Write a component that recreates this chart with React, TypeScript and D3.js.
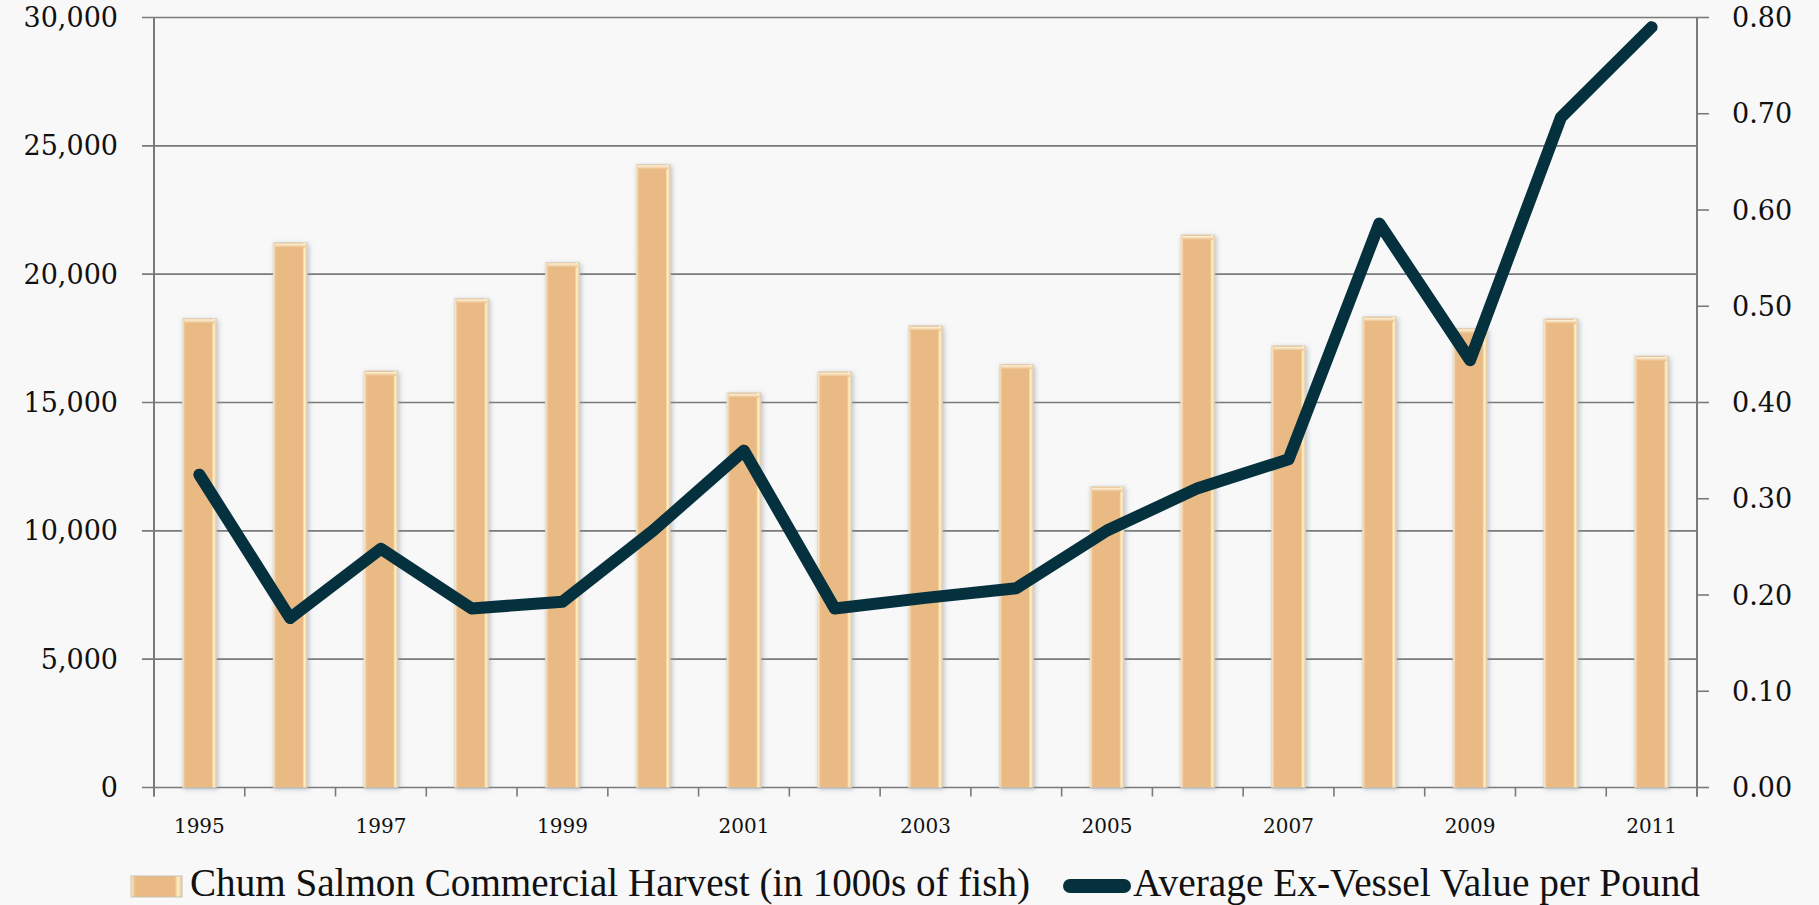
import React from "react";
import * as d3 from "d3";

const years = ["1995","1996","1997","1998","1999","2000","2001","2002","2003","2004","2005","2006","2007","2008","2009","2010","2011"];
const harvest = [18280,21230,16230,19060,20460,24280,15380,16200,17990,16490,11720,21530,17210,18340,17890,18260,16810];
const exVessel = [0.325,0.176,0.248,0.186,0.193,0.267,0.350,0.186,0.197,0.207,0.267,0.311,0.341,0.586,0.444,0.696,0.790];
const leftTicks = [0,5000,10000,15000,20000,25000,30000];
const rightTicks = [0,0.1,0.2,0.3,0.4,0.5,0.6,0.7,0.8];
const labelYears = ["1995","1997","1999","2001","2003","2005","2007","2009","2011"];
const legendLabels = ["Chum Salmon Commercial Harvest (in 1000s of fish)", "Average Ex-Vessel Value per Pound"];

const W = 1819, H = 905;
const L = 154, R = 1697, T = 17.5, B = 787.5;

export default function App() {
  const x = d3.scaleBand<string>().domain(years).range([L, R]).padding(0);
  const yL = d3.scaleLinear().domain([0, 30000]).range([B, T]);
  const yR = d3.scaleLinear().domain([0, 0.8]).range([B, T]);
  const bw = x.bandwidth() * 0.375;
  const cx = (d: string) => (x(d) as number) + x.bandwidth() / 2;
  const line = d3.line<number>().x((_, i) => cx(years[i])).y(d => yR(d));
  const fmt = d3.format(",");
  const axisColor = "#7a7a7a";
  const font = "'DejaVu Serif', 'Liberation Serif', serif";
  const bounds = [...years.map(d => x(d) as number), R];

  return (
    <svg width={W} height={H} style={{ position: "absolute", left: 0, top: 0 }} xmlns="http://www.w3.org/2000/svg">
      <defs>
        <linearGradient id="barGrad" x1="0" x2="1" y1="0" y2="0">
          <stop offset="0" stopColor="#FFF4D8" />
          <stop offset="0.07" stopColor="#EDC18E" />
          <stop offset="0.12" stopColor="#E9BA84" />
          <stop offset="0.86" stopColor="#E9BA84" />
          <stop offset="0.92" stopColor="#FFF1C6" />
          <stop offset="1" stopColor="#E6C7A0" />
        </linearGradient>
        <linearGradient id="barTop" x1="0" x2="0" y1="0" y2="1">
          <stop offset="0" stopColor="#FFF6E0" />
          <stop offset="1" stopColor="#E9BA84" />
        </linearGradient>
        <filter id="shadow" x="-40%" y="-10%" width="180%" height="120%">
          <feDropShadow dx="1.5" dy="1.5" stdDeviation="2.5" floodColor="#8a96a6" floodOpacity="0.55" />
        </filter>
      </defs>
      <rect x={0} y={0} width={W} height={H} fill="#F8F8F8" />

      {leftTicks.map(t => (
        <line key={"g" + t} x1={L - 12} x2={R} y1={yL(t)} y2={yL(t)} stroke={axisColor} strokeWidth={1.6} />
      ))}
      {rightTicks.map(t => (
        <line key={"rt" + t} x1={R} x2={R + 12} y1={yR(t)} y2={yR(t)} stroke={axisColor} strokeWidth={1.6} />
      ))}
      {bounds.map((b, i) => (
        <line key={"xt" + i} x1={b} x2={b} y1={B} y2={B + 9} stroke={axisColor} strokeWidth={1.6} />
      ))}
      <line x1={L} x2={L} y1={T} y2={B + 9} stroke={axisColor} strokeWidth={2} />
      <line x1={R} x2={R} y1={T} y2={B + 9} stroke={axisColor} strokeWidth={2} />

      {years.map((d, i) => (
        <g key={"b" + d}>
          <rect x={cx(d) - bw / 2} y={yL(harvest[i])} width={bw} height={B - yL(harvest[i])} fill="url(#barGrad)" filter="url(#shadow)" stroke="#d9d2c4" strokeWidth={0.6} />
          <rect x={cx(d) - bw / 2 + 2} y={yL(harvest[i]) + 1} width={bw - 4} height={4} fill="url(#barTop)" />
        </g>
      ))}

      <path d={line(exVessel) as string} fill="none" stroke="#05313F" strokeWidth={12} strokeLinejoin="round" strokeLinecap="round" />

      {leftTicks.map(t => (
        <text key={"ll" + t} x={118} y={yL(t) + 2} textAnchor="end" dominantBaseline="middle" fontFamily={font} fontSize={27} fill="#111">{fmt(t)}</text>
      ))}
      {rightTicks.map(t => (
        <text key={"rl" + t} x={1732} y={yR(t) + 2} textAnchor="start" dominantBaseline="middle" fontFamily={font} fontSize={27} fill="#111">{t.toFixed(2)}</text>
      ))}
      {labelYears.map(d => (
        <text key={"xl" + d} x={cx(d)} y={827} textAnchor="middle" dominantBaseline="middle" fontFamily={font} fontSize={20} fill="#111">{d}</text>
      ))}

      <rect x={131} y={876} width={51} height={21} fill="url(#barGrad)" stroke="#c9c2b4" strokeWidth={1} />
      <text x={190} y={896} fontFamily="'Liberation Serif', serif" fontSize={40} fill="#111" textLength={840} lengthAdjust="spacingAndGlyphs">{legendLabels[0]}</text>
      <line x1={1070} x2={1124} y1={886} y2={886} stroke="#05313F" strokeWidth={14} strokeLinecap="round" />
      <text x={1133} y={896} fontFamily="'Liberation Serif', serif" fontSize={40} fill="#111" textLength={567} lengthAdjust="spacingAndGlyphs">{legendLabels[1]}</text>
    </svg>
  );
}
